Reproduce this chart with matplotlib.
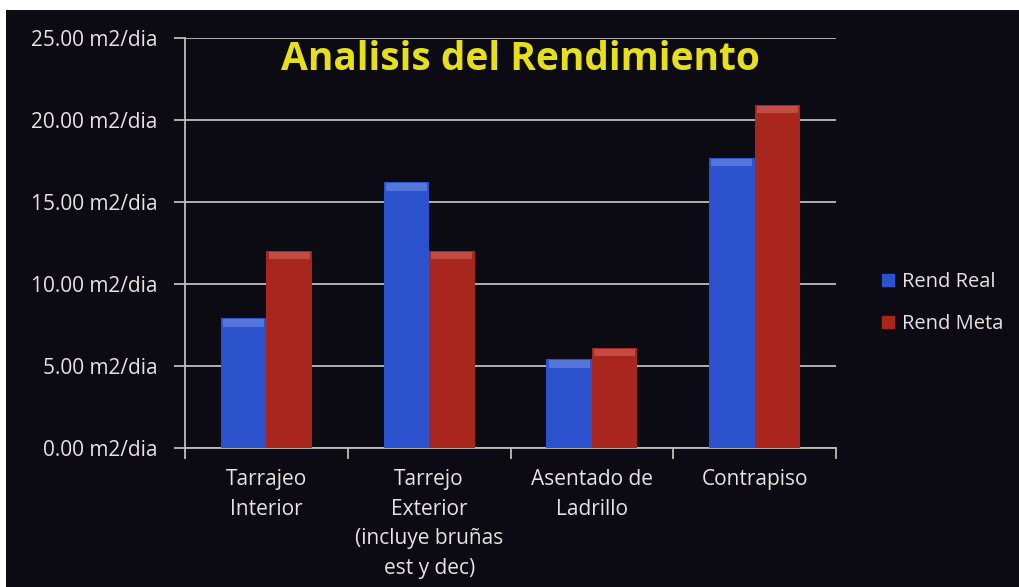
import matplotlib.pyplot as plt
from matplotlib.patches import Rectangle
from matplotlib.lines import Line2D
import numpy as np

categorias = ['Tarrajeo\nInterior', 'Tarrejo\nExterior\n(incluye bruñas\nest y dec)',
              'Asentado de\nLadrillo', 'Contrapiso']
rend_real = [7.9, 16.2, 5.4, 17.7]
rend_meta = [12.0, 12.0, 6.1, 20.9]
yticks = [0, 5, 10, 15, 20, 25]

fondo = '#0c0a12'
azul = '#2b52cc'
rojo = '#a8261e'
texto = '#e6e2e6'
rejilla = '#bdbdbd'

plt.rcParams['font.family'] = ['Open Sans', 'DejaVu Sans']

fig = plt.figure(figsize=(10.19, 5.87), dpi=100, facecolor='white')
fig.patches.append(Rectangle((6 / 1019, 0), 1, 1 - 10 / 587, transform=fig.transFigure,
                             facecolor=fondo, edgecolor='none', zorder=-5))

ax = fig.add_axes([185 / 1019, 1 - 448 / 587, 651 / 1019, 410 / 587])
ax.set_facecolor(fondo)

x = np.arange(len(categorias))
w = 0.28
b1 = ax.bar(x - w / 2, rend_real, w, color=azul, zorder=3, label='Rend Real')
b2 = ax.bar(x + w / 2, rend_meta, w, color=rojo, zorder=3, label='Rend Meta')

# bisel claro arriba de cada barra
for barras, claro in ((b1, '#6f8ee8'), (b2, '#d4655c')):
    for r in barras:
        ax.bar(r.get_x() + r.get_width() / 2, 0.45, r.get_width() * 0.9,
               bottom=r.get_height() - 0.5, color=claro, alpha=0.6, zorder=4)

ax.set_xlim(-0.5, len(categorias) - 0.5)
ax.set_ylim(0, 25)
ax.set_yticks(yticks)
ax.set_yticklabels(['%.2f m2/dia' % v for v in yticks], color=texto, fontsize=15)
ax.yaxis.grid(True, color=rejilla, linewidth=1.3, zorder=1)
ax.tick_params(axis='y', length=8, color=rejilla, width=1.3, pad=12)

ax.set_xticks(x)
ax.set_xticklabels(categorias, color=texto, fontsize=15, linespacing=1.55, va='top')
ax.set_xticks(np.arange(-0.5, len(categorias), 1), minor=True)
ax.tick_params(axis='x', which='major', length=0, pad=15)
ax.tick_params(axis='x', which='minor', length=8, color=rejilla, width=1.3)

for s in ['top', 'right']:
    ax.spines[s].set_visible(False)
for s in ['left', 'bottom']:
    ax.spines[s].set_color(rejilla)
    ax.spines[s].set_linewidth(1.3)

fig.text(520 / 1019, 1 - 70 / 587, 'Analisis del Rendimiento', color='#e6df1e',
         fontsize=28, fontweight='bold', ha='center', va='baseline')

handles = [Line2D([], [], marker='s', linestyle='none', markersize=8, color=azul),
           Line2D([], [], marker='s', linestyle='none', markersize=8, color=rojo)]
leg = fig.legend(handles, ['Rend Real', 'Rend Meta'], loc='center left',
                 bbox_to_anchor=(858 / 1019, 1 - 303 / 587), frameon=False,
                 fontsize=14.5, labelspacing=1.1, handletextpad=0.1, handlelength=1.2)
for t in leg.get_texts():
    t.set_color(texto)

fig.savefig('out.png', dpi=100, facecolor=fig.get_facecolor())
